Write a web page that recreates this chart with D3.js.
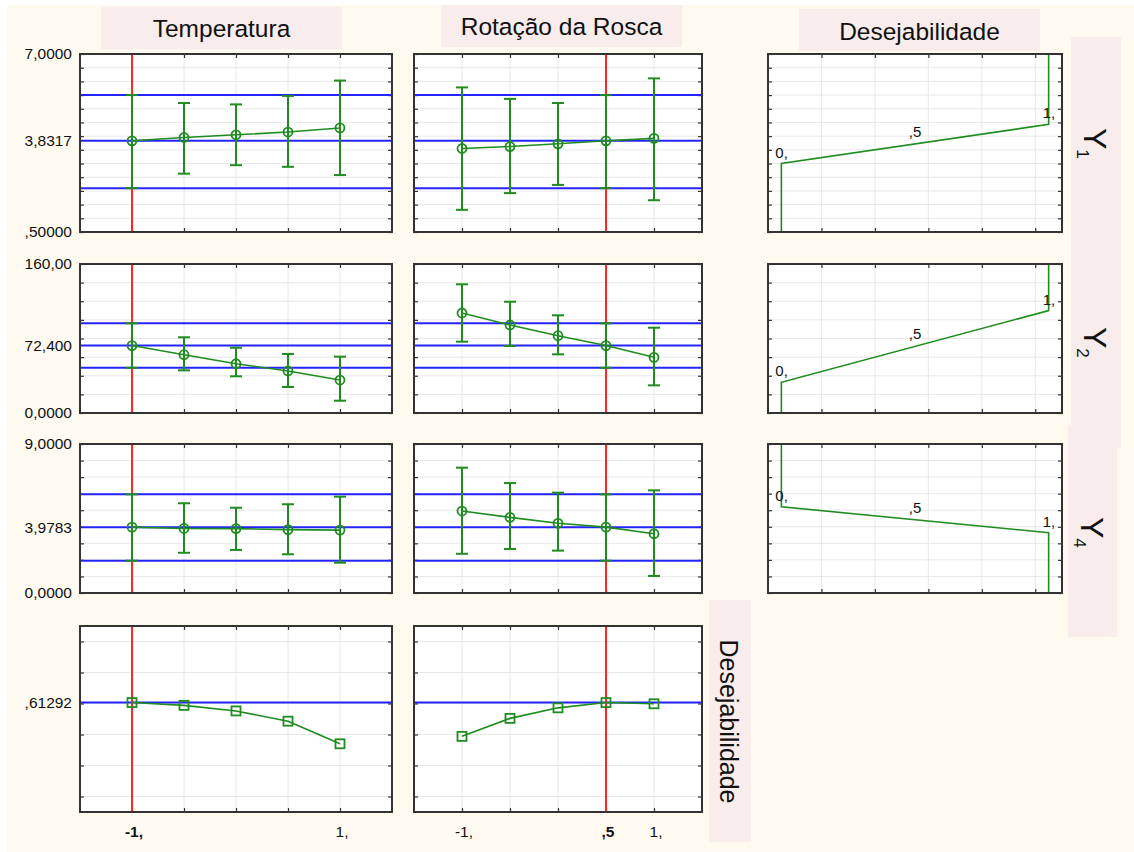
<!DOCTYPE html>
<html>
<head>
<meta charset="utf-8">
<script src="https://cdn.jsdelivr.net/npm/d3@7"></script>
<style>
  body { margin: 0; background: #fff; }
  svg text { font-family: "Liberation Sans", Arial, sans-serif; fill: #111; }
</style>
</head>
<body>
<svg id="chart" width="1134" height="852"></svg>
<script>
// Coded factor levels and the current setting of each factor.
const levels = [-1, -0.5, 0, 0.5, 1];
const factorNames = ['Temperatura', 'Rotação da Rosca'];
const currentLevel = [-1, 0.5];

// Y1 profiles (mean, lower and upper limit).
const y1TempMean = [3.83, 3.95, 4.05, 4.15, 4.30];
const y1TempLow  = [2.10, 2.63, 2.94, 2.88, 2.58];
const y1TempHigh = [5.50, 5.21, 5.16, 5.47, 6.03];
const y1RotMean  = [3.55, 3.62, 3.72, 3.83, 3.92];
const y1RotLow   = [1.31, 1.92, 2.22, 2.10, 1.66];
const y1RotHigh  = [5.78, 5.36, 5.21, 5.50, 6.11];
const y1Pred = 3.8317;
const y1Interval = [2.10, 5.50];

// Y2 profiles.
const y2TempMean = [72.4, 62.6, 52.9, 45.1, 35.4];
const y2TempLow  = [48.6, 45.8, 39.4, 27.9, 13.2];
const y2TempHigh = [96.3, 81.3, 70.1, 63.4, 60.5];
const y2RotMean  = [107.4, 94.5, 83.0, 72.4, 59.8];
const y2RotLow   = [76.6, 71.9, 63.0, 48.6, 29.7];
const y2RotHigh  = [138.2, 119.5, 104.9, 96.3, 91.6];
const y2Pred = 72.4;
const y2Interval = [48.6, 96.3];

// Y4 profiles.
const y4TempMean = [3.978, 3.90, 3.89, 3.83, 3.80];
const y4TempLow  = [1.95, 2.43, 2.60, 2.34, 1.83];
const y4TempHigh = [5.96, 5.42, 5.15, 5.36, 5.82];
const y4RotMean  = [4.95, 4.57, 4.21, 3.978, 3.58];
const y4RotLow   = [2.37, 2.66, 2.56, 1.95, 1.03];
const y4RotHigh  = [7.57, 6.64, 6.06, 5.96, 6.20];
const y4Pred = 3.9783;
const y4Interval = [1.95, 5.96];

// Overall desirability profiles.
const desTemp = [0.613, 0.604, 0.586, 0.553, 0.480];
const desRot  = [0.504, 0.562, 0.596, 0.613, 0.609];
const desPred = 0.61292;

// Response value where desirability is 0 and where it is 1.
const y1DesLimits = [3.0, 4.43];
const y2DesLimits = [33.0, 110.0];
const y4DesLimits = [5.21, 3.64];
const desLevels = [0, 0.5, 1];
const desLevelLabels = ['0,', ',5', '1,'];

// Axis domains, grid ticks and tick labels.
const y1Domain = [0.5, 7];
const y2Domain = [0, 160];
const y4Domain = [0, 9];
const desDomain = [0.26, 0.86];
const y1Ticks = [0.5, 1, 1.5, 2, 2.5, 3, 3.5, 4, 4.5, 5, 5.5, 6, 6.5, 7];
const y2Ticks = [0, 20, 40, 60, 80, 100, 120, 140, 160];
const y4Ticks = [0, 1, 2, 3, 4, 5, 6, 7, 8, 9];
const desTicks = [0.31, 0.41, 0.51, 0.61, 0.71, 0.81];
const y1TickValues = [7, 3.8317, 0.5];
const y1TickLabels = ['7,0000', '3,8317', ',50000'];
const y2TickValues = [160, 72.4, 0];
const y2TickLabels = ['160,00', '72,400', '0,0000'];
const y4TickValues = [9, 3.9783, 0];
const y4TickLabels = ['9,0000', '3,9783', '0,0000'];
const desTickValues = [0.61292];
const desTickLabels = [',61292'];
const desXTicks = [0.15, 0.35, 0.55, 0.75, 0.95];
const bottomTempValues = [-1, 1];
const bottomTempLabels = ['-1,', '1,'];
const bottomRotValues = [-1, 0.5, 1];
const bottomRotLabels = ['-1,', ',5', '1,'];

// Layout.
const colX = [[80, 392], [414, 702], [768, 1062]];
const rowY = [[54, 232], [264, 413], [444, 593], [626, 812]];
const GREEN = '#1f8c1f', BLUE = '#2424ff', RED = '#ff2626', PINK = '#f8ecec';

const svg = d3.select('#chart');
svg.append('rect').attr('x', 7).attr('y', 5).attr('width', 1127).attr('height', 847).attr('fill', '#fffaf0');

// Pink label boxes.
const boxes = [[101, 7, 241, 42], [441, 5, 241, 42], [799, 9, 241, 42],
               [1071, 37, 50, 411], [1068, 425, 49, 212], [709, 600, 42, 242]];
svg.selectAll('rect.box').data(boxes).join('rect')
  .attr('class', 'box')
  .attr('x', d => d[0]).attr('y', d => d[1]).attr('width', d => d[2]).attr('height', d => d[3])
  .attr('fill', PINK);

svg.append('text').attr('x', 221.5).attr('y', 37).attr('text-anchor', 'middle')
  .style('font-size', '24.5px').text(factorNames[0]);
svg.append('text').attr('x', 561.5).attr('y', 35).attr('text-anchor', 'middle')
  .style('font-size', '24.5px').text(factorNames[1]);
svg.append('text').attr('x', 919.5).attr('y', 40).attr('text-anchor', 'middle')
  .style('font-size', '24.5px').text('Desejabilidade');
svg.append('text').attr('transform', 'translate(720,721.5) rotate(90)').attr('text-anchor', 'middle')
  .style('font-size', '25px').text('Desejabilidade');

// Row labels Y1, Y2, Y4 (rotated, with subscript).
[['1', 1084, 128], ['2', 1084, 327], ['4', 1081, 517]].forEach(function(r){
  const t = svg.append('text').attr('transform', 'translate(' + r[1] + ',' + r[2] + ') rotate(90)')
    .style('font-size', '32px');
  t.append('tspan').text('Y');
  t.append('tspan').attr('dy', 7).style('font-size', '17px').text(r[0]);
});

// Draws background, grid and ticks of one panel.
function panelFrame( x, y, xTicks, yTicks ){
  const [x0, x1] = x.range(), [yb, yt] = y.range();
  const g = svg.append('g');
  g.append('rect').attr('x', x0).attr('y', yt).attr('width', x1 - x0).attr('height', yb - yt).attr('fill', '#fff');
  const grid = g.append('g').attr('stroke', '#e8e8e8').attr('stroke-width', 1);
  grid.selectAll('line.h').data(yTicks).join('line').attr('class', 'h')
    .attr('x1', x0).attr('x2', x1).attr('y1', d => y(d)).attr('y2', d => y(d));
  grid.selectAll('line.v').data(xTicks).join('line').attr('class', 'v')
    .attr('x1', d => x(d)).attr('x2', d => x(d)).attr('y1', yt).attr('y2', yb);
  const tickStyle = a => a.call(s => s.select('.domain').remove())
    .call(s => s.selectAll('line').attr('stroke', '#333').attr('stroke-width', 1.2));
  g.append('g').attr('transform', 'translate(' + x0 + ',0)')
    .call(d3.axisLeft(y).tickValues(yTicks).tickSize(-4).tickFormat('')).call(tickStyle);
  g.append('g').attr('transform', 'translate(' + x1 + ',0)')
    .call(d3.axisRight(y).tickValues(yTicks).tickSize(-4).tickFormat('')).call(tickStyle);
  g.append('g').attr('transform', 'translate(0,' + yt + ')')
    .call(d3.axisTop(x).tickValues(xTicks).tickSize(-4).tickFormat('')).call(tickStyle);
  g.append('g').attr('transform', 'translate(0,' + yb + ')')
    .call(d3.axisBottom(x).tickValues(xTicks).tickSize(-4).tickFormat('')).call(tickStyle);
  return g;
}

function panelBorder( g, x, y ){
  const [x0, x1] = x.range(), [yb, yt] = y.range();
  g.append('rect').attr('x', x0).attr('y', yt).attr('width', x1 - x0).attr('height', yb - yt)
    .attr('fill', 'none').attr('stroke', '#333').attr('stroke-width', 2);
}

function hline( g, x, y, v ){
  g.append('line').attr('x1', x.range()[0]).attr('x2', x.range()[1])
    .attr('y1', y(v)).attr('y2', y(v)).attr('stroke', BLUE).attr('stroke-width', 2);
}

function vline( g, x, y, v ){
  g.append('line').attr('x1', x(v)).attr('x2', x(v))
    .attr('y1', y.range()[0]).attr('y2', y.range()[1]).attr('stroke', RED).attr('stroke-width', 2);
}

// Profile panel with error bars.
function profilePanel( col, row, domain, ticks, mean, low, high, pred, interval ){
  const x = d3.scaleLinear().domain([-1.5, 1.5]).range(colX[col]);
  const y = d3.scaleLinear().domain(domain).range([rowY[row][1], rowY[row][0]]);
  const g = panelFrame(x, y, levels, ticks);
  hline(g, x, y, interval[1]); hline(g, x, y, pred); hline(g, x, y, interval[0]);
  vline(g, x, y, currentLevel[col]);
  const pts = levels.map((l, i) => ({ l: l, m: mean[i], lo: low[i], hi: high[i] }));
  g.append('path').datum(pts).attr('fill', 'none').attr('stroke', GREEN).attr('stroke-width', 1.6)
    .attr('d', d3.line().x(d => x(d.l)).y(d => y(d.m)));
  const bars = g.append('g').attr('stroke', GREEN).attr('stroke-width', 2).attr('fill', 'none');
  bars.selectAll('line.bar').data(pts).join('line').attr('class', 'bar')
    .attr('x1', d => x(d.l)).attr('x2', d => x(d.l)).attr('y1', d => y(d.lo)).attr('y2', d => y(d.hi));
  bars.selectAll('line.capHi').data(pts).join('line').attr('class', 'capHi')
    .attr('x1', d => x(d.l) - 6).attr('x2', d => x(d.l) + 6).attr('y1', d => y(d.hi)).attr('y2', d => y(d.hi));
  bars.selectAll('line.capLo').data(pts).join('line').attr('class', 'capLo')
    .attr('x1', d => x(d.l) - 6).attr('x2', d => x(d.l) + 6).attr('y1', d => y(d.lo)).attr('y2', d => y(d.lo));
  bars.selectAll('circle').data(pts).join('circle')
    .attr('cx', d => x(d.l)).attr('cy', d => y(d.m)).attr('r', 4.5).attr('stroke-width', 1.8);
  panelBorder(g, x, y);
  return y;
}

// Desirability function panel of one response.
function desirabilityPanel( row, domain, ticks, limits ){
  const x = d3.scaleLinear().domain([-0.05, 1.05]).range(colX[2]);
  const y = d3.scaleLinear().domain(domain).range([rowY[row][1], rowY[row][0]]);
  const g = panelFrame(x, y, desXTicks, ticks);
  // Beyond the limits desirability stays at 0 or 1 up to the edge of the axis.
  const edge0 = limits[0] < limits[1] ? domain[0] : domain[1];
  const edge1 = limits[0] < limits[1] ? domain[1] : domain[0];
  const curve = [[0, edge0], [0, limits[0]], [1, limits[1]], [1, edge1]];
  g.append('path').datum(curve).attr('fill', 'none').attr('stroke', GREEN).attr('stroke-width', 1.6)
    .attr('d', d3.line().x(d => x(d[0])).y(d => y(d[1])));
  const lab = desLevels.map((d, i) => ({ d: d, t: desLevelLabels[i], v: limits[0] + d * (limits[1] - limits[0]) }));
  g.selectAll('text.dl').data(lab).join('text').attr('class', 'dl')
    .attr('x', d => d.d === 0.5 ? x(d.d) : x(d.d) - 6)
    .attr('y', d => y(d.v) - (d.d === 0.5 ? 7 : 6))
    .attr('text-anchor', d => d.d === 0.5 ? 'middle' : 'start')
    .style('font-size', '15px').text(d => d.t);
  panelBorder(g, x, y);
}

function desProfilePanel( col, values ){
  const x = d3.scaleLinear().domain([-1.5, 1.5]).range(colX[col]);
  const y = d3.scaleLinear().domain(desDomain).range([rowY[3][1], rowY[3][0]]);
  const g = panelFrame(x, y, levels, desTicks);
  hline(g, x, y, desPred);
  vline(g, x, y, currentLevel[col]);
  const pts = levels.map((l, i) => ({ l: l, v: values[i] }));
  g.append('path').datum(pts).attr('fill', 'none').attr('stroke', GREEN).attr('stroke-width', 1.6)
    .attr('d', d3.line().x(d => x(d.l)).y(d => y(d.v)));
  g.selectAll('rect.mk').data(pts).join('rect').attr('class', 'mk')
    .attr('x', d => x(d.l) - 4.5).attr('y', d => y(d.v) - 4.5).attr('width', 9).attr('height', 9)
    .attr('fill', 'none').attr('stroke', GREEN).attr('stroke-width', 1.8);
  panelBorder(g, x, y);
  return { x: x, y: y };
}

function leftLabels( y, values, labels ){
  svg.append('g').selectAll('text').data(values).join('text')
    .attr('x', 72).attr('y', d => y(d)).attr('dy', '0.35em').attr('text-anchor', 'end')
    .style('font-size', '15.5px').text((d, i) => labels[i]);
}

function bottomLabels( x, values, labels, current ){
  svg.append('g').selectAll('text').data(values).join('text')
    .attr('x', d => x(d) + 2).attr('y', 837).attr('text-anchor', 'middle')
    .style('font-size', '15.5px').style('font-weight', d => d === current ? 'bold' : 'normal')
    .text((d, i) => labels[i]);
}

const sy1 = profilePanel(0, 0, y1Domain, y1Ticks, y1TempMean, y1TempLow, y1TempHigh, y1Pred, y1Interval);
profilePanel(1, 0, y1Domain, y1Ticks, y1RotMean, y1RotLow, y1RotHigh, y1Pred, y1Interval);
const sy2 = profilePanel(0, 1, y2Domain, y2Ticks, y2TempMean, y2TempLow, y2TempHigh, y2Pred, y2Interval);
profilePanel(1, 1, y2Domain, y2Ticks, y2RotMean, y2RotLow, y2RotHigh, y2Pred, y2Interval);
const sy4 = profilePanel(0, 2, y4Domain, y4Ticks, y4TempMean, y4TempLow, y4TempHigh, y4Pred, y4Interval);
profilePanel(1, 2, y4Domain, y4Ticks, y4RotMean, y4RotLow, y4RotHigh, y4Pred, y4Interval);

desirabilityPanel(0, y1Domain, y1Ticks, y1DesLimits);
desirabilityPanel(1, y2Domain, y2Ticks, y2DesLimits);
desirabilityPanel(2, y4Domain, y4Ticks, y4DesLimits);

const dTemp = desProfilePanel(0, desTemp);
const dRot = desProfilePanel(1, desRot);

leftLabels(sy1, y1TickValues, y1TickLabels);
leftLabels(sy2, y2TickValues, y2TickLabels);
leftLabels(sy4, y4TickValues, y4TickLabels);
leftLabels(dTemp.y, desTickValues, desTickLabels);

bottomLabels(dTemp.x, bottomTempValues, bottomTempLabels, currentLevel[0]);
bottomLabels(dRot.x, bottomRotValues, bottomRotLabels, currentLevel[1]);
</script>
</body>
</html>
